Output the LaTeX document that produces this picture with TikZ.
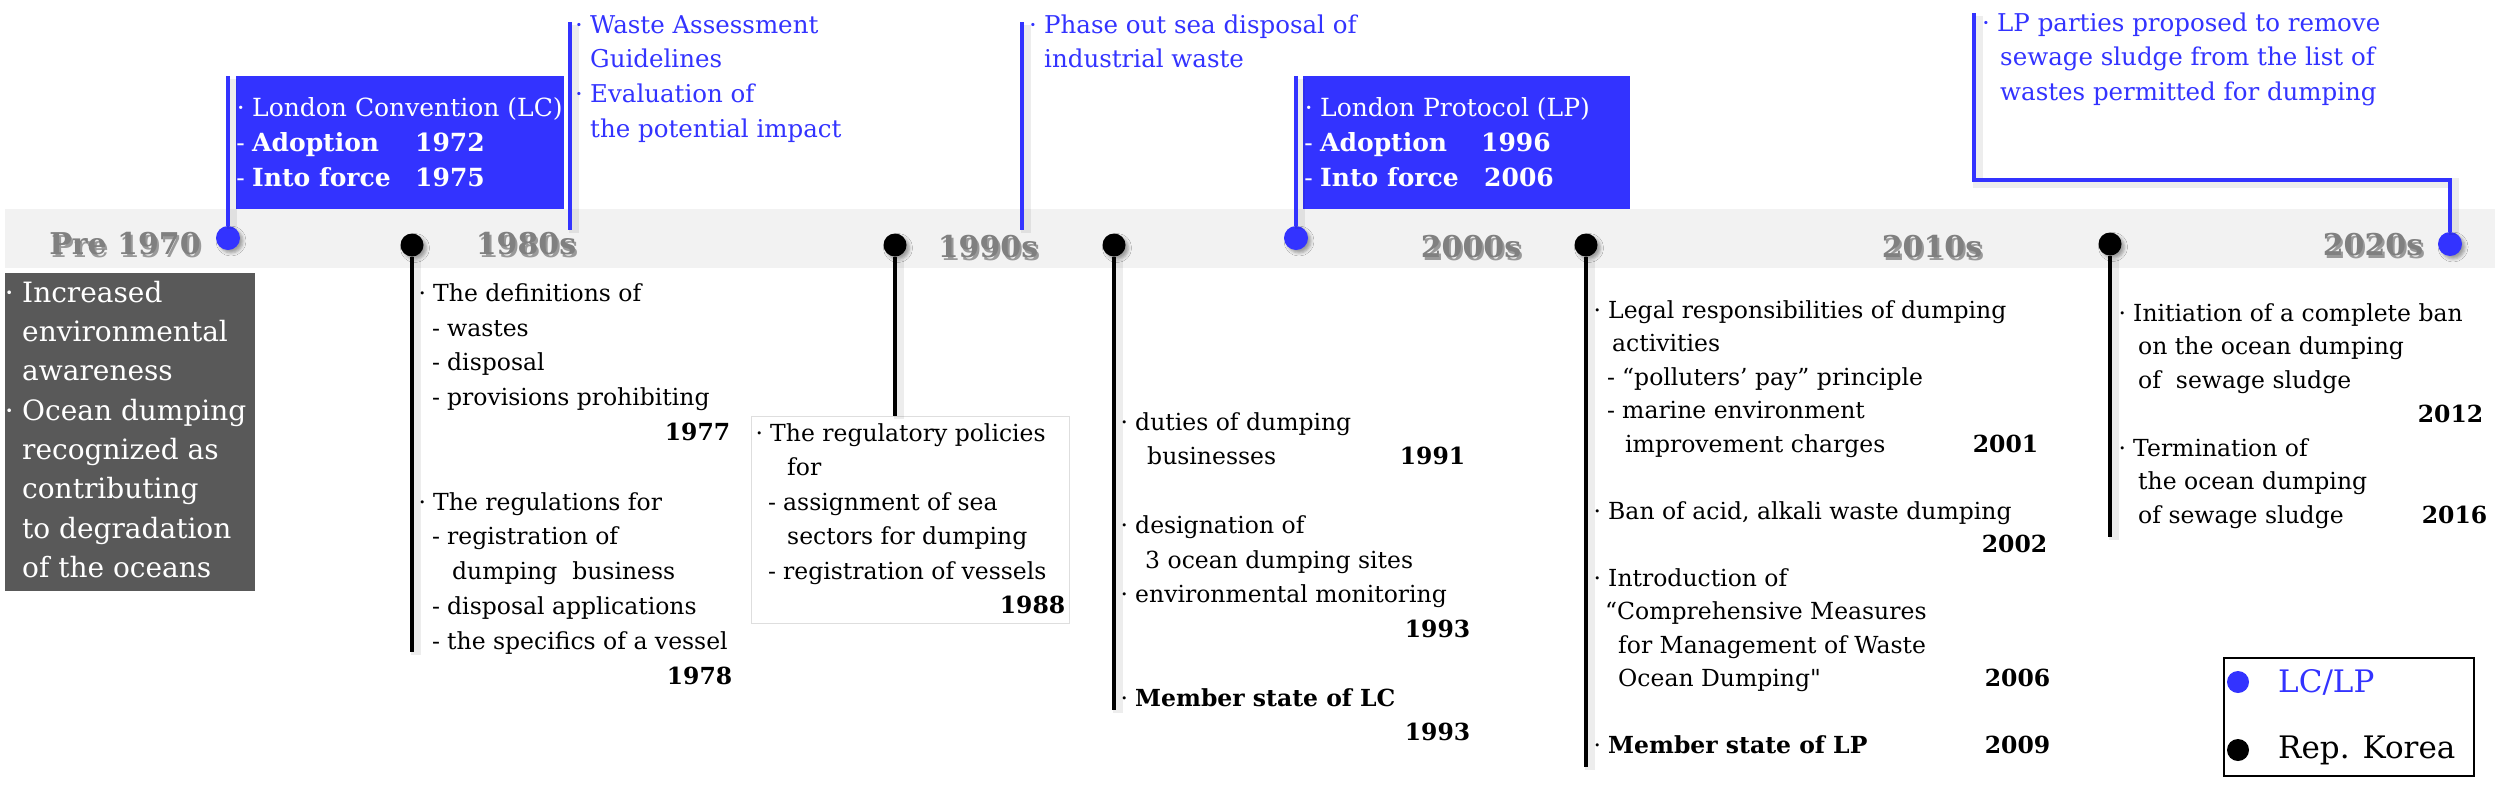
\documentclass[tikz,border=0pt]{standalone}
\usepackage{fontspec}
\setmainfont{DejaVu Serif}
\usetikzlibrary{shadows.blur}
\definecolor{lcblue}{RGB}{51,51,255}
\definecolor{dgray}{RGB}{89,89,89}
\definecolor{bandgray}{RGB}{242,242,242}
\definecolor{declab}{RGB}{128,128,128}
\definecolor{boxedge}{RGB}{222,222,222}
\newcommand{\bul}{\llap{·\hspace{0.3em}}}
\newcommand{\dsh}{\llap{-\hspace{0.3em}}}
\newcommand{\yr}[2]{\makebox[0pt][l]{\makebox[#1pt][r]{\textbf{#2}}}}
\newcommand{\stt}{\rule{0pt}{22pt}}
\newcommand{\shtext}[1]{\makebox[0pt][l]{\hspace{2pt}\raisebox{-2.5pt}{\color{black!40}#1}}#1}
\begin{document}
\begin{tikzpicture}[x=1pt,y=-1pt,
  txt/.style={anchor=north west, inner sep=0pt, align=left, font=\fontsize{23.5}{34.5}\selectfont},
  bluetxt/.style={anchor=north west, inner sep=0pt, align=left, text=lcblue, font=\fontsize{24.5}{34.7}\selectfont},
  whitetxt/.style={anchor=north west, inner sep=0pt, align=left, text=white, font=\fontsize{25}{35}\selectfont},
  bluebox/.style={anchor=north west, fill=lcblue, inner sep=0pt, minimum width=328, minimum height=133},
  kdot/.style={circle, fill=black, inner sep=0pt, minimum size=23,
     blur shadow={shadow xshift=3pt, shadow yshift=-3pt, shadow blur radius=3pt, shadow opacity=35}},
  bdot/.style={circle, fill=lcblue, inner sep=0pt, minimum size=24,
     blur shadow={shadow xshift=3pt, shadow yshift=-3pt, shadow blur radius=3pt, shadow opacity=35}},
  kline/.style={line width=3.5, draw=black,
     preaction={draw=black, opacity=0.07, line width=10, transform canvas={shift={(4pt,-3pt)}}}},
  bline/.style={line width=3.5, draw=lcblue,
     preaction={draw=black, opacity=0.07, line width=10, transform canvas={shift={(4pt,-3pt)}}}},
  dec/.style={inner sep=0pt, text=declab, font=\bfseries\fontsize{30}{34}\selectfont},
  legtxt/.style={anchor=west, inner sep=0pt, font=\fontsize{31}{36}\selectfont}
]
\useasboundingbox (0,0) rectangle (2500,796);
% timeline band
\fill[bandgray] (5,209) rectangle (2495,268);

% decade labels
\node[dec] (d70) at (125,245) {\shtext{Pre 1970}};
\node[dec] (d80) at (526,245) {\shtext{1980s}};
\node[dec] (d90) at (988,248) {\shtext{1990s}};
\node[dec] (d00) at (1471,248) {\shtext{2000s}};
\node[dec] (d10) at (1932,248) {\shtext{2010s}};
\node[dec] (d20) at (2373,246) {\shtext{2020s}};

% dots
\node[bdot] (b1) at (228,238) {};
\node[kdot] (k1) at (412,245) {};
\node[kdot] (k2) at (895,245) {};
\node[kdot] (k3) at (1114,245) {};
\node[bdot] (b2) at (1296,238) {};
\node[kdot] (k4) at (1586,245) {};
\node[kdot] (k5) at (2110,244) {};
\node[bdot] (b3) at (2450,244) {};

% blue boxes (LC / LP)
\node[bluebox] (lcb) at (236,76) {};
\node[bluebox, minimum width=327] (lpb) at (1303,76) {};
\node[whitetxt] (lct) at (252,94) {\stt\bul London Convention (LC)\\
  \dsh\makebox[163pt][l]{\textbf{Adoption}}\textbf{1972}\\
  \dsh\makebox[163pt][l]{\textbf{Into force}}\textbf{1975}};
\node[whitetxt] (lpt) at (1320,94) {\stt\bul London Protocol (LP)\\
  \dsh\makebox[161pt][l]{\textbf{Adoption}}\textbf{1996}\\
  \dsh\makebox[164pt][l]{\textbf{Into force}}\textbf{2006}};

% blue texts on top
\node[bluetxt] (wag) at (590,11) {\stt\bul Waste Assessment\\Guidelines\\\bul Evaluation of\\the potential impact};
\node[bluetxt] (pha) at (1044,11) {\stt\bul Phase out sea disposal of\\industrial waste};
\node[bluetxt] (lpp) at (1997,9) {\stt\bul LP parties proposed to remove\\
  \hspace*{3pt}sewage sludge from the list of\\
  \hspace*{3pt}wastes permitted for dumping};

% coordinates for free ends
\coordinate (wagtop) at (570,22);
\coordinate (wagbot) at (570,230);
\coordinate (phatop) at (1022,22);
\coordinate (phabot) at (1022,230);
\coordinate (lptop) at (1974,13);
\coordinate (lpknee) at (2450,180);
\coordinate (k1end) at (412,652);
\coordinate (k3end) at (1114,710);
\coordinate (k4end) at (1586,767);
\coordinate (k5end) at (2110,537);

% dark box
\node[anchor=north west, fill=dgray, inner sep=0pt, minimum width=250, minimum height=318] (dk) at (5,273) {};
\node[anchor=north west, inner sep=0pt, align=left, text=white, font=\fontsize{28}{39.3}\selectfont] (dkt) at (22,280)
 {\stt\bul Increased\\environmental\\awareness\\\bul Ocean dumping\\recognized as\\contributing\\to degradation\\of the oceans};

% 1988 box
\node[anchor=north west, draw=boxedge, fill=white, line width=1, inner sep=0pt, minimum width=318, minimum height=207] (b88) at (751,416) {};

% connectors
\draw[bline] (b1.north) -- (b1.north |- lcb.north);
\draw[bline] (wagtop) -- (wagbot);
\draw[bline] (phatop) -- (phabot);
\draw[bline] (b2.north) -- (b2.north |- lpb.north);
\draw[bline] (lptop) |- (lpknee) -- (b3.north);
\draw[kline] (k1.south) -- (k1end);
\draw[kline] (k2.south) -- (k2.south |- b88.north);
\draw[kline] (k3.south) -- (k3end);
\draw[kline] (k4.south) -- (k4end);
\draw[kline] (k5.south) -- (k5end);

% Korea texts
\node[txt, font=\fontsize{23.5}{34.8}\selectfont] (t77) at (433,279) {\stt\bul The definitions of\\
 \hspace*{14pt}\dsh wastes\\
 \hspace*{14pt}\dsh disposal\\
 \hspace*{14pt}\dsh provisions prohibiting\\
 \yr{297}{1977}\\[34.8pt]
 \bul The regulations for\\
 \hspace*{14pt}\dsh registration of\\
 \hspace*{19pt}dumping\ \ business\\
 \hspace*{14pt}\dsh disposal applications\\
 \hspace*{14pt}\dsh the specifics of a vessel\\
 \yr{299}{1978}};

\node[txt] (t88) at (770,419) {\stt\bul The regulatory policies\\
 \hspace*{17pt}for\\
 \hspace*{13pt}\dsh assignment of sea\\
 \hspace*{17pt}sectors for dumping\\
 \hspace*{13pt}\dsh registration of vessels\\
 \yr{295}{1988}};

\node[txt] (t91) at (1135,408) {\stt\bul duties of dumping\\
 \yr{330}{1991}\hspace*{12pt}businesses\\[34.5pt]
 \bul designation of\\
 \hspace*{10pt}3 ocean dumping sites\\
 \bul environmental monitoring\\
 \yr{335}{1993}\\[34.5pt]
 \bul\textbf{Member state of LC}\\
 \yr{335}{1993}};

\node[txt, font=\fontsize{23.5}{33.5}\selectfont] (t01) at (1608,296) {\stt\bul Legal responsibilities of dumping\\
 \hspace*{4pt}activities\\
 \hspace*{14pt}\dsh “polluters’ pay” principle\\
 \hspace*{14pt}\dsh marine environment\\
 \yr{430}{2001}\hspace*{17pt}improvement charges\\[33.5pt]
 \bul Ban of acid, alkali waste dumping\\
 \yr{439}{2002}\\
 \bul Introduction of\\
 \hspace*{-3pt}“Comprehensive Measures\\
 \hspace*{10pt}for Management of Waste\\
 \yr{442}{2006}\hspace*{10pt}Ocean Dumping\textquotedbl\\[33.5pt]
 \yr{442}{2009}\bul\textbf{Member state of LP}};

\node[txt, font=\fontsize{23.5}{33.7}\selectfont] (t12) at (2133,299) {\stt\bul Initiation of a complete ban\\
 \hspace*{5pt}on the ocean dumping\\
 \hspace*{5pt}of\ \ sewage sludge\\
 \yr{350}{2012}\\
 \bul Termination of\\
 \hspace*{5pt}the ocean dumping\\
 \yr{354}{2016}\hspace*{5pt}of sewage sludge};

% legend
\node[anchor=north west, draw=black, line width=1.5, inner sep=0pt, minimum width=250, minimum height=118] (leg) at (2223,657) {};
\node[circle, fill=lcblue, inner sep=0pt, minimum size=22] (lg1) at (2238,682) {};
\node[circle, fill=black, inner sep=0pt, minimum size=22] (lg2) at (2238,750) {};
\node[legtxt, text=lcblue] (lgt1) at (2278,682) {LC/LP};
\node[legtxt] (lgt2) at (2278,750) {Rep. Korea};
\end{tikzpicture}
\end{document}
